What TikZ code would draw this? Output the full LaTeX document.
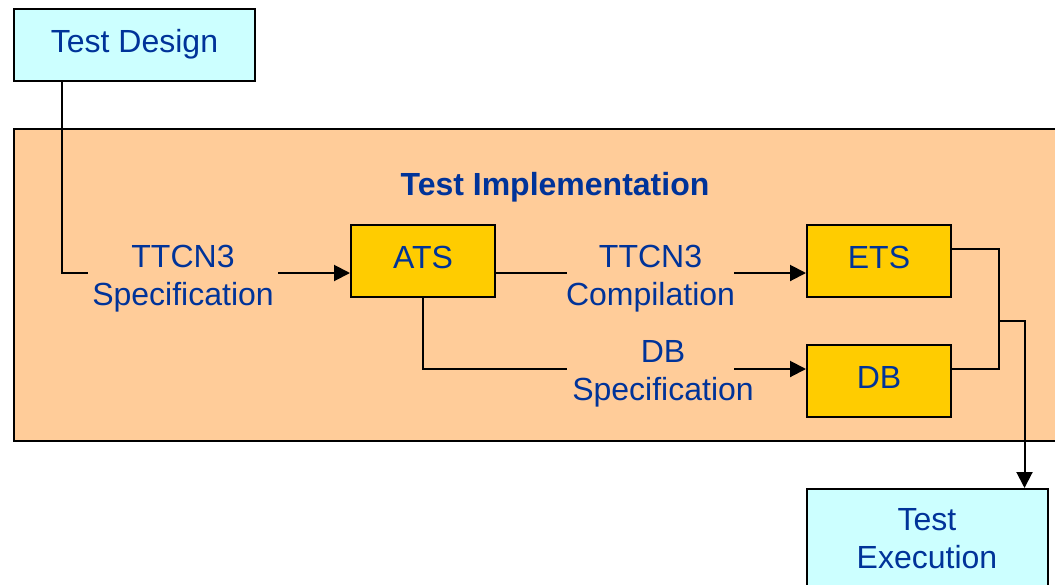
\documentclass[tikz,border=0pt]{standalone}
\usepackage{fontspec}
\setmainfont{Liberation Sans}
\usetikzlibrary{arrows.meta}
\definecolor{cyanfill}{HTML}{CCFFFF}
\definecolor{orangefill}{HTML}{FFCC99}
\definecolor{yellowfill}{HTML}{FFCC00}
\definecolor{txtblue}{HTML}{003399}
\begin{document}
\begin{tikzpicture}[x=1pt,y=-1pt,
  every node/.style={font=\fontsize{32}{38}\selectfont, text=txtblue, align=center, inner sep=0pt},
  oneline/.style={text height=23pt, text depth=9pt},
  endbox/.style={draw=black, line width=2pt, fill=cyanfill, minimum width=241pt},
  artbox/.style={draw=black, line width=2pt, fill=yellowfill, minimum width=144pt, minimum height=72pt, oneline},
  implbox/.style={draw=black, line width=2pt, fill=orangefill},
  conn/.style={draw=black, line width=2pt},
  arr/.style={conn, -{Triangle[length=16pt,width=16pt]}}]
\useasboundingbox (0,0) rectangle (1055,584);
\clip (0,0) rectangle (1055,584);
% implementation area
\node[implbox, minimum width=1051pt, minimum height=312pt] (impl) at (539.5,285) {};
\node[font=\fontsize{32}{38}\selectfont\bfseries, text height=23pt, text depth=0pt] (title) at (555,184) {Test Implementation};
% boxes
\node[endbox, minimum height=72pt, oneline] (td) at (134.5,45) {Test Design};
\node[endbox, minimum height=100pt] (te) at (927,539) {Test\\Execution};
\node[artbox] (ats) at (423,261) {ATS};
\node[artbox] (ets) at (879,261) {ETS};
\node[artbox] (db) at (879,381) {DB};
% labels
\node (spec) at (183,279) {TTCN3\\Specification};
\node (comp) at (650.5,279) {TTCN3\\Compilation};
\node (dbspec) at (663,374) {DB\\Specification};
% free ends
\coordinate (c0) at (88,273);
\coordinate (c1) at (278,273);
\coordinate (c2) at (567,273);
\coordinate (c3) at (734,273);
\coordinate (c4) at (567,369);
\coordinate (c5) at (734,369);
\coordinate (j) at (999,321);
% connectors
\draw[conn] ([xshift=49pt]td.south west) |- (c0);
\draw[arr] (c1) -- ([yshift=-12pt]ats.west);
\draw[conn] ([yshift=-12pt]ats.east) -- (c2);
\draw[arr] (c3) -- ([yshift=-12pt]ets.west);
\draw[conn] (ats.south) |- (c4);
\draw[arr] (c5) -- ([yshift=12pt]db.west);
\draw[conn] ([yshift=12pt]ets.east) -| (j);
\draw[conn] ([yshift=12pt]db.east) -| (j);
\draw[arr] (j) -| ([xshift=-24pt]te.north east);
\end{tikzpicture}
\end{document}
